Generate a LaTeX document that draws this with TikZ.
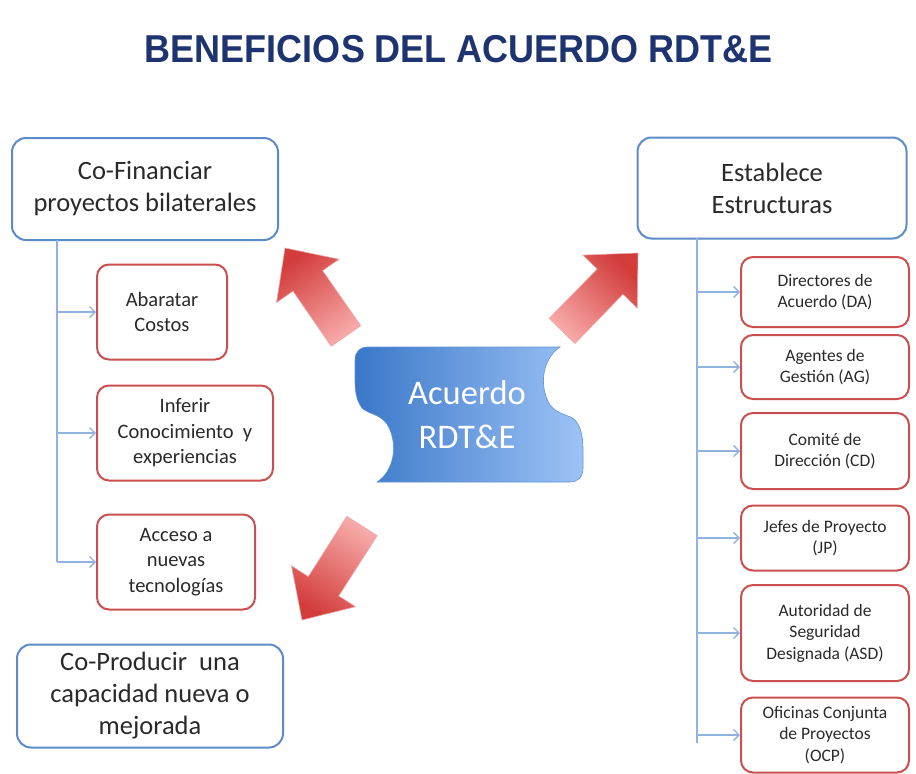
\documentclass[tikz,border=0pt]{standalone}
\usepackage{fontspec}
\setmainfont{Carlito}
\newfontfamily\titulofont{Liberation Sans}
\usepackage{tikz}
\usetikzlibrary{calc,arrows.meta}

\definecolor{azulcaja}{HTML}{5B8BC9}
\definecolor{rojocaja}{HTML}{C9504E}
\definecolor{azulenlace}{HTML}{8FB2DE}
\definecolor{azultitulo}{HTML}{1E3470}
\definecolor{textogris}{HTML}{2A2A2A}
\definecolor{rojopunta}{HTML}{D23C3B}
\definecolor{rojocola}{HTML}{F7AAA8}
\definecolor{azuloscuro}{HTML}{3A77C8}
\definecolor{azulclaro}{HTML}{9DC3F6}

\tikzset{
  cajaazul/.style={draw=azulcaja, line width=2pt, rounded corners=14pt, fill=white, align=center, text=textogris, font=\fontsize{26.5}{32}\selectfont},
  cajaroja/.style={draw=rojocaja, line width=2pt, rounded corners=12pt, fill=white, align=center, text=textogris},
  textoizq/.style={font=\fontsize{20.5}{25.5}\selectfont},
  textoder/.style={font=\fontsize{17.5}{21.5}\selectfont, minimum width=168pt},
  enlace/.style={draw=azulenlace, line width=1.6pt},
  flechita/.style={enlace, -{Straight Barb[length=5.5pt,width=11pt,line width=1.4pt]}},
  flecha/.style={draw=rojopunta!45!white, line width=0.6pt, top color=rojopunta, bottom color=rojocola},
}

\newcommand{\bloque}[3]{%
  \coordinate (hb) at ($(#2)!40pt!(#1)$);
  \path[flecha, shading angle=#3]
    ($(#1)!18pt!90:(#2)$) -- ($(hb)!18pt!90:(#2)$) -- ($(hb)!38pt!90:(#2)$) -- (#2)
    -- ($(hb)!38pt!-90:(#2)$) -- ($(hb)!18pt!-90:(#2)$) -- ($(#1)!18pt!-90:(#2)$) -- cycle;
}

\begin{document}
\begin{tikzpicture}[x=1pt, y=-1pt]
\useasboundingbox[fill=white] (0,0) rectangle (916,774);

\node[text=azultitulo, font=\titulofont\bfseries\fontsize{36}{40}\selectfont] (titulo) at (459,49) {\scalebox{1}[1.08]{BENEFICIOS DEL ACUERDO RDT\&E}};

\node[cajaazul, minimum width=266pt, minimum height=102pt] (cofin) at (145,189) {Co-Financiar\\proyectos bilaterales};
\node[cajaazul, minimum width=266pt, minimum height=103pt] (coprod) at (150,696) {Co-Producir\ \ una\\capacidad nueva o\\mejorada};
\node[cajaazul, minimum width=269pt, minimum height=101pt] (estab) at (772,188) {Establece\\Estructuras};

\node[cajaroja, textoizq, minimum width=130pt, minimum height=95pt] (abar) at (162,312) {Abaratar\\Costos};
\node[cajaroja, textoizq, minimum width=176pt, minimum height=95pt] (infer) at (185,433) {Inferir\\Conocimiento\ \ y\\experiencias};
\node[cajaroja, textoizq, minimum width=158pt, minimum height=95pt] (acceso) at (176,562) {Acceso a\\nuevas\\tecnologías};

\node[cajaroja, textoder, minimum height=70pt] (da) at (825,292) {Directores de\\Acuerdo (DA)};
\node[cajaroja, textoder, minimum height=64pt] (ag) at (825,367) {Agentes de\\Gestión (AG)};
\node[cajaroja, textoder, minimum height=76pt] (cd) at (825,451) {Comité de\\Dirección (CD)};
\node[cajaroja, textoder, minimum height=65pt] (jp) at (825,538) {Jefes de Proyecto\\(JP)};
\node[cajaroja, textoder, minimum height=96pt] (asd) at (825,633) {Autoridad de\\Seguridad\\Designada (ASD)};
\node[cajaroja, textoder, minimum height=75pt] (ocp) at (825,735) {Oficinas Conjunta\\de Proyectos\\(OCP)};

\coordinate (troncoizq) at (57,240);
\coordinate (troncoder) at (697,238);

\draw[enlace] (troncoizq) -- (troncoizq |- acceso.west);
\draw[flechita] (troncoizq |- abar.west) -- (abar.west);
\draw[flechita] (troncoizq |- infer.west) -- (infer.west);
\draw[flechita] (troncoizq |- acceso.west) -- (acceso.west);

\draw[enlace] (troncoder) -- ([yshift=-8pt]troncoder |- ocp.west);
\draw[flechita] (troncoder |- da.west) -- (da.west);
\draw[flechita] (troncoder |- ag.west) -- (ag.west);
\draw[flechita] (troncoder |- cd.west) -- (cd.west);
\draw[flechita] (troncoder |- jp.west) -- (jp.west);
\draw[flechita] (troncoder |- asd.west) -- (asd.west);
\draw[flechita] (troncoder |- ocp.west) -- (ocp.west);

\path[draw=azuloscuro!80!white, line width=0.6pt, left color=azuloscuro, right color=azulclaro]
  (367,347) -- (560,347)
  .. controls (543,358) and (538,385) .. (550,405)
  .. controls (558,415) and (568,414) .. (575,420)
  .. controls (582,428) and (583,440) .. (583,450)
  -- (583,468) .. controls (583,477) and (578,482) .. (570,482)
  -- (377,482)
  .. controls (394,471) and (399,444) .. (387,424)
  .. controls (380,414) and (368,414) .. (362,408)
  .. controls (356,400) and (355,390) .. (355,380)
  -- (355,360) .. controls (355,352) and (360,347) .. (367,347) -- cycle;
\node[text=white, align=center, font=\fontsize{34.5}{44}\selectfont] (acuerdo) at (467,415) {Acuerdo\\RDT\&E};

\coordinate (colaA) at (346,336);
\coordinate (puntaA) at (285,248);
\coordinate (colaB) at (562,331);
\coordinate (puntaB) at (638,253);
\coordinate (colaC) at (362,526);
\coordinate (puntaC) at (302,620);
\bloque{colaA}{puntaA}{34.7}
\bloque{colaB}{puntaB}{-44.3}
\bloque{colaC}{puntaC}{147.5}
\end{tikzpicture}
\end{document}
